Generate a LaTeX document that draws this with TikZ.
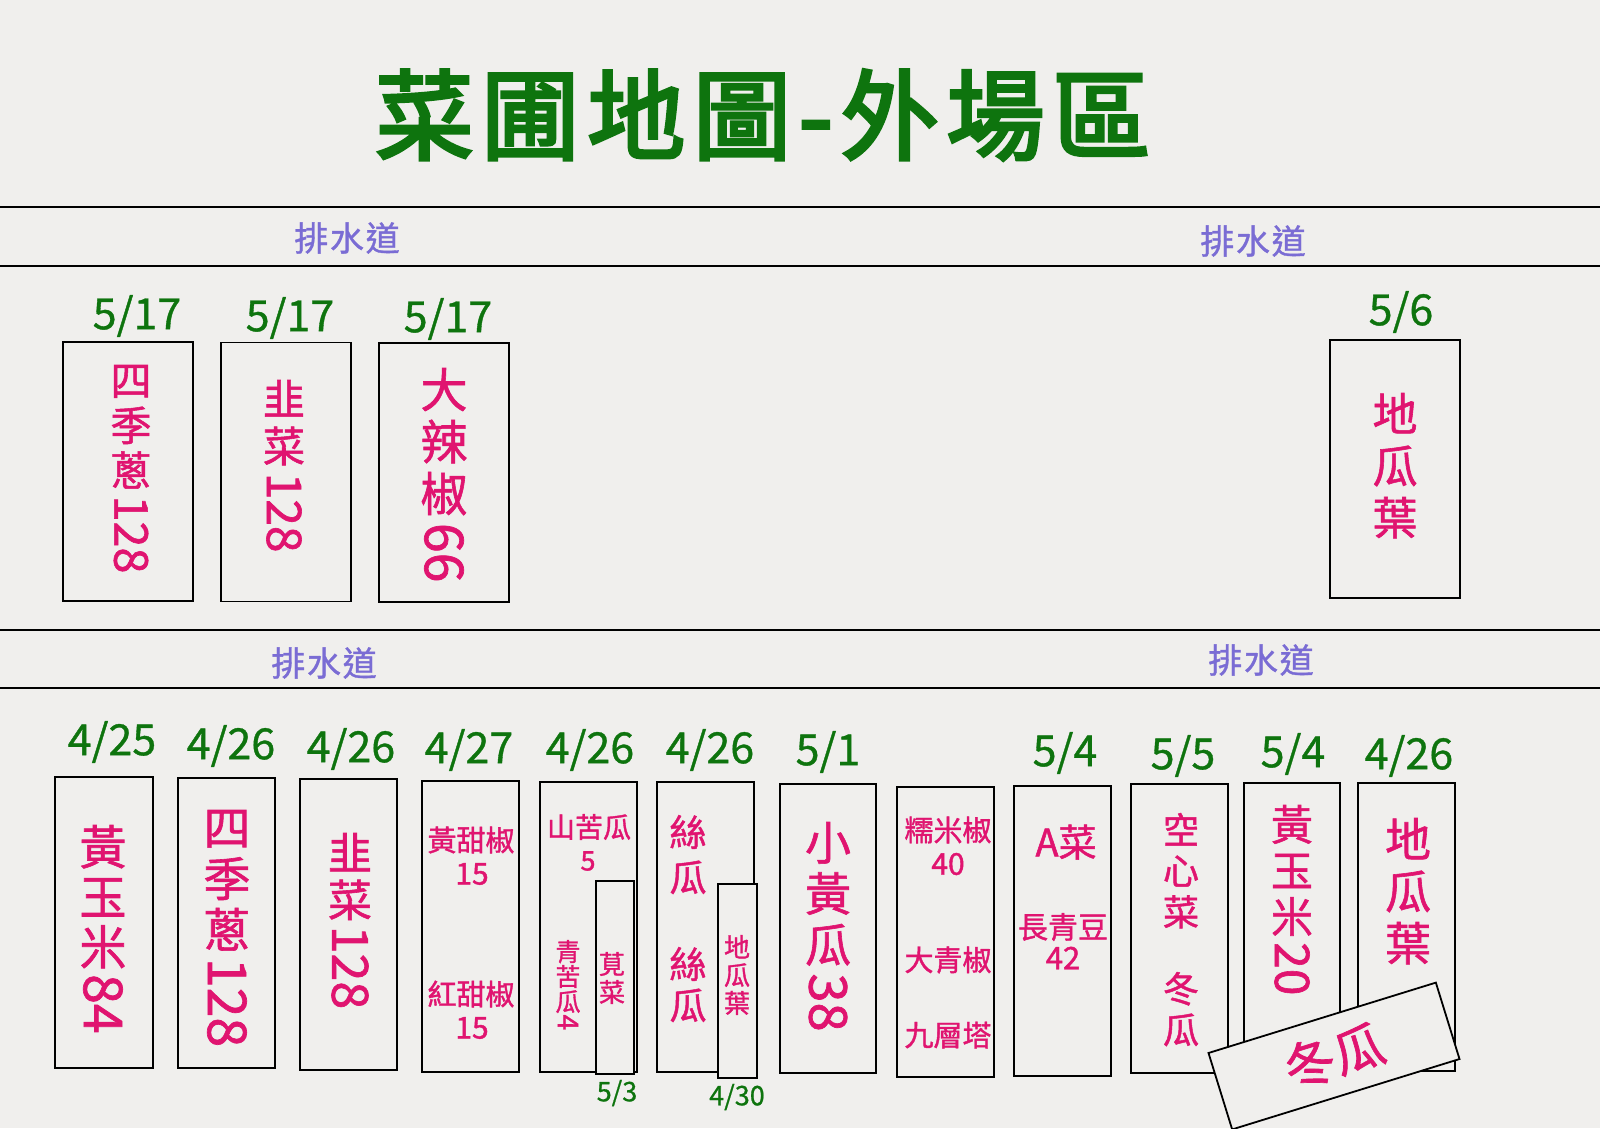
\documentclass[tikz,border=0pt]{standalone}
\usepackage{fontspec}
\usepackage{graphicx}
\newfontfamily\cjk{Noto Sans CJK TC}[FakeBold=1.3]
\newfontfamily\cjkdate{Noto Sans CJK TC}[FakeBold=0.8]
\newfontfamily\cjktitle{Noto Sans CJK TC}[FakeBold=3.5, LetterSpace=8]
\newfontfamily\cjkdrain{Noto Sans CJK TC}[FakeBold=1, LetterSpace=5]
\definecolor{bgc}{RGB}{240,239,237}
\definecolor{tgreen}{RGB}{14,116,14}
\definecolor{vpink}{RGB}{224,20,112}
\definecolor{drainc}{RGB}{122,108,212}
\newcommand\vf[2]{\cjk\fontsize{#1}{#2}\selectfont\lineskiplimit=-200pt\relax}
\newcommand\vnum[1]{\raisebox{0.86em}{\rotatebox{-90}{\scalebox{1.14}{#1}}}}
\tikzset{
  bed/.style={draw=black, line width=1.8pt, inner sep=0pt, outer sep=0pt},
  innerbed/.style={bed, fill=bgc},
  drainline/.style={draw=black, line width=1.8pt},
  drainlabel/.style={text=drainc, inner sep=0pt, font=\cjkdrain\fontsize{34}{36}\selectfont},
  datelbl/.style={text=tgreen, inner sep=0pt, font=\cjkdate\fontsize{43}{46}\selectfont},
  smalldate/.style={text=tgreen, inner sep=0pt, font=\cjkdate\fontsize{27}{30}\selectfont},
  vt/.style={text=vpink, inner sep=0pt, outer sep=0pt, align=center, anchor=north},
  hz/.style={text=vpink, inner sep=0pt}
}
\begin{document}
\begin{tikzpicture}[x=1pt,y=-1pt]
\fill[bgc] (0,0) rectangle (1600,1128);
\useasboundingbox (0,0) rectangle (1600,1128);

% title
\node[text=tgreen, inner sep=0pt, font=\cjktitle\fontsize{98}{100}\selectfont] (title) at (763,115) {菜圃地圖-外場區};

% drains
\coordinate (l1a) at (0,207); \coordinate (l1b) at (1600,207);
\coordinate (l2a) at (0,266); \coordinate (l2b) at (1600,266);
\coordinate (l3a) at (0,630); \coordinate (l3b) at (1600,630);
\coordinate (l4a) at (0,688); \coordinate (l4b) at (1600,688);
\draw[drainline] (l1a) -- (l1b);
\draw[drainline] (l2a) -- (l2b);
\draw[drainline] (l3a) -- (l3b);
\draw[drainline] (l4a) -- (l4b);
\node[drainlabel] (d1) at (347,238) {排水道};
\node[drainlabel] (d2) at (1253,241) {排水道};
\node[drainlabel] (d3) at (324,663) {排水道};
\node[drainlabel] (d4) at (1261,660) {排水道};

% top row beds
\node[bed, minimum width=130pt, minimum height=259pt] (t1) at (128,471.5) {};
\node[bed, minimum width=130pt, minimum height=259pt] (t2) at (286,472) {};
\node[bed, minimum width=130pt, minimum height=259pt] (t3) at (444,472.5) {};
\node[bed, minimum width=130pt, minimum height=258pt] (t4) at (1395,469) {};

\node[datelbl] (t1d) at (137,316) {5/17};
\node[datelbl] (t2d) at (290,318) {5/17};
\node[datelbl] (t3d) at (448,319) {5/17};
\node[datelbl] (t4d) at (1401,312) {5/6};

\node[vt, font=\vf{41}{45}] (t1t) at (131,365) {四\\季\\蔥\\\vnum{128}};
\node[vt, font=\vf{42}{47}] (t2t) at (284,380) {韭\\菜\\\vnum{128}};
\node[vt, font=\vf{47}{52}] (t3t) at (444,368) {大\\辣\\椒\\\vnum{66}};
\node[vt, font=\vf{45}{52}] (t4t) at (1395,393) {地\\瓜\\葉};

% bottom row beds
\node[bed, minimum width=98pt, minimum height=291pt] (b1) at (104,922.5) {};
\node[bed, minimum width=97pt, minimum height=290pt] (b2) at (226.5,923) {};
\node[bed, minimum width=97pt, minimum height=291pt] (b3) at (348.5,924.5) {};
\node[bed, minimum width=97pt, minimum height=291pt] (b4) at (470.5,926.5) {};
\node[bed, minimum width=97pt, minimum height=290pt] (b5) at (588.5,927) {};
\node[bed, minimum width=97pt, minimum height=290pt] (b6) at (705.5,927) {};
\node[bed, minimum width=96pt, minimum height=289pt] (b7) at (828,928.5) {};
\node[bed, minimum width=97pt, minimum height=290pt] (b8) at (945.5,932) {};
\node[bed, minimum width=97pt, minimum height=290pt] (b9) at (1062.5,931) {};
\node[bed, minimum width=97pt, minimum height=289pt] (b10) at (1179.5,928.5) {};
\node[bed, minimum width=96pt, minimum height=288pt] (b11) at (1292,927) {};
\node[bed, minimum width=97pt, minimum height=288pt] (b12) at (1406.5,927) {};
\node[innerbed, minimum width=38pt, minimum height=193pt] (b5i) at (615,977.5) {};
\node[innerbed, minimum width=39pt, minimum height=194pt] (b6i) at (737.5,981) {};

\node[datelbl] (b1d) at (112,742) {4/25};
\node[datelbl] (b2d) at (231,746) {4/26};
\node[datelbl] (b3d) at (351,749) {4/26};
\node[datelbl] (b4d) at (469,750) {4/27};
\node[datelbl] (b5d) at (590,750) {4/26};
\node[datelbl] (b6d) at (710,750) {4/26};
\node[datelbl] (b7d) at (828,752) {5/1};
\node[datelbl] (b9d) at (1065,753) {5/4};
\node[datelbl] (b10d) at (1183,756) {5/5};
\node[datelbl] (b11d) at (1293,754) {5/4};
\node[datelbl] (b12d) at (1409,756) {4/26};
\node[smalldate] (b5id) at (617,1093) {5/3};
\node[smalldate] (b6id) at (737,1097) {4/30};

% bottom texts
\node[vt, font=\vf{47}{50}] (b1t) at (103,825) {黃\\玉\\米\\\vnum{84}};
\node[vt, font=\vf{47}{51}] (b2t) at (227,810) {四\\季\\蔥\\\vnum{128}};
\node[vt, font=\vf{44}{47}] (b3t) at (350,833) {韭\\菜\\\vnum{128}};

\node[hz, font=\cjk\fontsize{29}{30}\selectfont] (b4a) at (471,840) {黃甜椒};
\node[hz, font=\cjk\fontsize{30}{30}\selectfont] (b4b) at (472,874) {15};
\node[hz, font=\cjk\fontsize{29}{30}\selectfont] (b4c) at (471,994) {紅甜椒};
\node[hz, font=\cjk\fontsize{30}{30}\selectfont] (b4d2) at (472,1028) {15};

\node[hz, font=\cjk\fontsize{28}{30}\selectfont] (b5a) at (589,827) {山苦瓜};
\node[hz, font=\cjk\fontsize{27}{30}\selectfont] (b5b) at (588,861) {5};
\node[vt, font=\vf{25}{25}] (b5c) at (568,940) {青\\苦\\瓜\\\vnum{4}};
\node[vt, font=\vf{26}{28}] (b5it) at (612,952) {莧\\菜};

\node[vt, font=\vf{37}{45}] (b6a) at (688,815) {絲\\瓜};
\node[vt, font=\vf{37}{41}] (b6b) at (688,947) {絲\\瓜};
\node[vt, font=\vf{26}{28}] (b6it) at (737,935) {地\\瓜\\葉};

\node[vt, font=\vf{46}{51}] (b7t) at (828,822) {小\\黃\\瓜\\\vnum{38}};

\node[hz, font=\cjk\fontsize{29}{30}\selectfont] (b8a) at (948,830) {糯米椒};
\node[hz, font=\cjk\fontsize{30}{30}\selectfont] (b8b) at (948,864) {40};
\node[hz, font=\cjk\fontsize{29}{30}\selectfont] (b8c) at (948,960) {大青椒};
\node[hz, font=\cjk\fontsize{29}{30}\selectfont] (b8d) at (948,1035) {九層塔};

\node[hz, font=\cjk\fontsize{38}{40}\selectfont] (b9a) at (1066,842) {A菜};
\node[hz, font=\cjk\fontsize{30}{30}\selectfont] (b9b) at (1063,927) {長青豆};
\node[hz, font=\cjk\fontsize{31}{30}\selectfont] (b9c) at (1063,958) {42};

\node[vt, font=\vf{36}{41}] (b10a) at (1181,813) {空\\心\\菜};
\node[vt, font=\vf{36}{41}] (b10b) at (1181,972) {冬\\瓜};

\node[vt, font=\vf{42}{46}] (b11t) at (1292,805) {黃\\玉\\米\\\vnum{20}};
\node[vt, font=\vf{46}{52}] (b12t) at (1408,818) {地\\瓜\\葉};

% rotated bed
\node[bed, fill=bgc, rotate=17.2, minimum width=238pt, minimum height=80pt, text=vpink, font=\cjk\fontsize{51}{54}\selectfont] (dg) at (1334,1056) {冬瓜};
\end{tikzpicture}
\end{document}
